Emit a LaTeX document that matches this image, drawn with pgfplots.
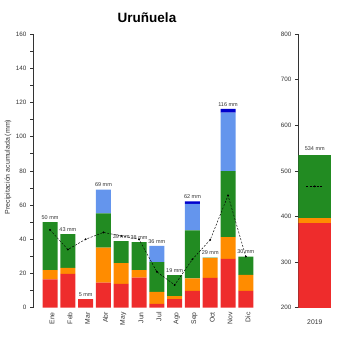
\documentclass[border=0pt]{standalone}
\usepackage{pgfplots}
\pgfplotsset{compat=1.18}
\usepackage{fontspec}
\setmainfont{Liberation Sans}
\definecolor{cred}{RGB}{238,44,44}
\definecolor{corange}{RGB}{255,140,0}
\definecolor{cgreen}{RGB}{34,139,34}
\definecolor{clblue}{RGB}{100,149,237}
\definecolor{cdblue}{RGB}{0,0,205}
\definecolor{ctext}{RGB}{50,50,50}
\pgfplotsset{
  common/.style={
    scale only axis,
    /pgf/number format/assume math mode=true,
    tick label style={font=\fontsize{6.3}{7}\selectfont, text=ctext},
    axis line style={black!80, line width=0.6pt},
    tick style={black!80, line width=0.6pt},
    tick align=outside,
    major tick length=3.5pt,
    minor tick length=3.5pt,
  }
}
\begin{document}
\begin{tikzpicture}
\path[use as bounding box] (0pt,0pt) rectangle (350pt,350pt);
\node[font=\bfseries\fontsize{13.5}{15}\selectfont] at (147pt,332pt) {Uruñuela};
\node[rotate=90, font=\fontsize{7}{8}\selectfont, text=ctext] at (8pt,183pt) {Precipitación acumulada (mm)};

% ---------- monthly stacked bars ----------
\begin{axis}[common,
  at={(33.5pt,42.3pt)}, anchor=south west,
  width=223pt, height=273.7pt,
  xmin=-0.93, xmax=11.6, ymin=0, ymax=160,
  axis y line*=left, axis x line*=bottom,
  x axis line style={draw=none},
  xtick={0,...,11},
  xticklabels={Ene,Feb,Mar,Abr,May,Jun,Jul,Ago,Sep,Oct,Nov,Dic},
  xtick style={draw=none},
  xticklabel style={rotate=90, anchor=east, inner sep=1pt, yshift=-2pt, font=\fontsize{6.8}{7}\selectfont},
  ytick={0,20,...,160},
  minor ytick={10,30,...,150},
  ybar stacked, bar width=15pt,
  clip=false,
]
\addplot[fill=cred, draw=none] coordinates {(0,16.6) (1,19.7) (2,5) (3,14.6) (4,14) (5,17.6) (6,2.3) (7,5) (8,9.9) (9,17.4) (10,28.5) (11,9.8)};
\addplot[fill=corange, draw=none] coordinates {(0,5.4) (1,3.6) (2,0) (3,20.5) (4,12) (5,4.4) (6,6.9) (7,1.8) (8,7.2) (9,11.6) (10,12.7) (11,9.4)};
\addplot[fill=cgreen, draw=none] coordinates {(0,28) (1,19.7) (2,0) (3,20) (4,12.9) (5,16.4) (6,17.4) (7,12.2) (8,28.1) (9,0.3) (10,38.6) (11,10.7)};
\addplot[fill=clblue, draw=none] coordinates {(0,0) (1,0) (2,0) (3,13.9) (4,0) (5,0) (6,9.6) (7,0) (8,15.5) (9,0) (10,34.3) (11,0)};
\addplot[fill=cdblue, draw=none] coordinates {(0,0) (1,0) (2,0) (3,0) (4,0) (5,0) (6,0) (7,0) (8,1.5) (9,0) (10,2.1) (11,0)};
\end{axis}

% ---------- overlay: mean line and labels ----------
\begin{axis}[
  at={(33.5pt,42.3pt)}, anchor=south west, scale only axis,
  width=223pt, height=273.7pt,
  xmin=-0.93, xmax=11.6, ymin=0, ymax=160,
  hide axis, clip=false,
]
\addplot[black, dash pattern=on 2pt off 1.5pt, line width=0.45pt, mark=*, mark size=0.7pt, mark options={solid}]
 coordinates {(0,45.5) (1,34) (2,40) (3,44) (4,42) (5,40) (6,21) (7,13.3) (8,28.3) (9,39.7) (10,65.6) (11,29.9)};
\addplot[draw=none, mark=none,
  nodes near coords, point meta=explicit symbolic,
  nodes near coords style={font=\fontsize{5.5}{6}\selectfont, text=ctext, anchor=south, inner sep=1pt, yshift=1.5pt}]
 table[x=x, y=y, meta=l, col sep=comma] {
x,y,l
0,50,50 mm
1,43,43 mm
2,5,5 mm
3,69,69 mm
4,38.9,39 mm
5,38.4,38 mm
6,36.2,36 mm
7,19,19 mm
8,62.2,62 mm
9,29.3,29 mm
10,116.2,116 mm
11,29.9,30 mm
};
\end{axis}

% ---------- annual bar ----------
\begin{axis}[common,
  at={(298.3pt,42.3pt)}, anchor=south west,
  width=33pt, height=273.7pt,
  xmin=-0.5, xmax=0.5, ymin=200, ymax=800,
  axis y line*=left, axis x line*=bottom,
  x axis line style={draw=none},
  xtick={0}, xticklabels={2019},
  xtick style={draw=none},
  xticklabel style={yshift=-5pt, font=\fontsize{6.8}{7}\selectfont},
  ytick={200,300,...,800},
  ybar stacked, bar width=33pt,
]
\addplot[fill=cred, draw=none] coordinates {(0,385)};
\addplot[fill=corange, draw=none] coordinates {(0,12.4)};
\addplot[fill=cgreen, draw=none] coordinates {(0,136.6)};
\end{axis}
\begin{axis}[
  at={(298.3pt,42.3pt)}, anchor=south west, scale only axis,
  width=33pt, height=273.7pt,
  xmin=-0.5, xmax=0.5, ymin=200, ymax=800,
  hide axis, clip=false,
]
\addplot[black, dash pattern=on 2pt off 1.5pt, line width=0.45pt, mark=*, mark size=0.7pt, mark indices={2}, mark options={solid}]
 coordinates {(-0.26,466) (0,466) (0.26,466)};
\addplot[draw=none, mark=none,
  nodes near coords, point meta=explicit symbolic,
  nodes near coords style={font=\fontsize{5.5}{6}\selectfont, text=ctext, anchor=south, inner sep=1pt, yshift=4pt}]
 table[x=x, y=y, meta=l, col sep=comma] {
x,y,l
0,534,534 mm
};
\end{axis}
\end{tikzpicture}
\end{document}
